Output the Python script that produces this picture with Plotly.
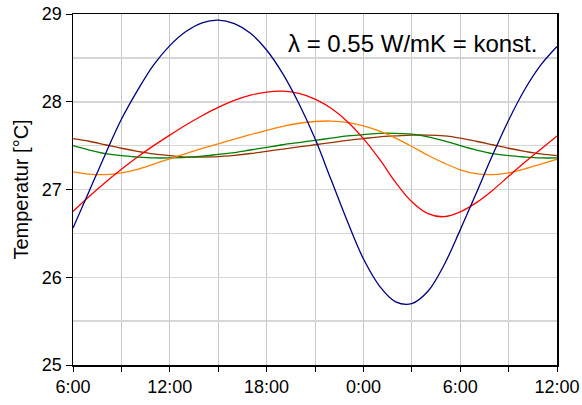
import plotly.graph_objects as go

# hours since 6:00 (day 1) -> 12:00 (day 2)
hours = list(range(0, 31))
tick_vals = [0, 6, 12, 18, 24, 30]
tick_labels = ["6:00", "12:00", "18:00", "0:00", "6:00", "12:00"]

blue = [26.56, 26.98, 27.40, 27.80, 28.13, 28.42, 28.64, 28.80, 28.90, 28.93,
        28.89, 28.78, 28.59, 28.32, 27.98, 27.58, 27.11, 26.64, 26.21, 25.90,
        25.72, 25.70, 25.84, 26.14, 26.54, 26.96, 27.39, 27.79, 28.14, 28.42, 28.63]
red = [26.75, 26.92, 27.08, 27.23, 27.37, 27.50, 27.62, 27.735, 27.84, 27.935,
       28.015, 28.075, 28.11, 28.12, 28.095, 28.03, 27.925, 27.775, 27.58, 27.345,
       27.08, 26.86, 26.725, 26.69, 26.745, 26.85, 26.99, 27.15, 27.31, 27.46, 27.61]
orange = [27.20, 27.175, 27.17, 27.19, 27.23, 27.29, 27.35, 27.41, 27.47, 27.52,
          27.575, 27.625, 27.675, 27.72, 27.755, 27.775, 27.78, 27.765, 27.725, 27.665,
          27.585, 27.49, 27.39, 27.30, 27.225, 27.18, 27.17, 27.19, 27.235, 27.29, 27.345]
green = [27.50, 27.45, 27.41, 27.385, 27.37, 27.36, 27.36, 27.365, 27.38, 27.40,
         27.42, 27.45, 27.48, 27.51, 27.535, 27.56, 27.585, 27.61, 27.625, 27.64,
         27.64, 27.63, 27.60, 27.555, 27.50, 27.45, 27.41, 27.385, 27.37, 27.36, 27.36]
brown = [27.58, 27.55, 27.51, 27.47, 27.435, 27.405, 27.385, 27.37, 27.37, 27.375,
         27.39, 27.41, 27.435, 27.46, 27.485, 27.51, 27.535, 27.56, 27.58, 27.60,
         27.61, 27.62, 27.62, 27.61, 27.585, 27.55, 27.51, 27.47, 27.435, 27.405, 27.385]

series = [
    (brown, "#993300"),
    (green, "#008000"),
    (orange, "#FF8000"),
    (red, "#FF0000"),
    (blue, "#000080"),
]

font = "Liberation Sans, Arial, sans-serif"

fig = go.Figure()
for vals, col in series:
    fig.add_trace(go.Scatter(x=hours, y=vals, mode="lines",
                             line=dict(color=col, width=1.3, shape="spline", smoothing=1),
                             showlegend=False, hoverinfo="skip"))

fig.add_annotation(text="λ = 0.55 W/mK = konst.", xref="paper", yref="paper",
                   x=0.440, y=0.917, xanchor="left", yanchor="middle",
                   showarrow=False, font=dict(family=font, size=24, color="black"))

fig.update_layout(
    width=582, height=405,
    margin=dict(l=73, r=25, t=14, b=40, autoexpand=False),
    paper_bgcolor="white", plot_bgcolor="white",
    font=dict(family=font, size=18, color="black"),
    hovermode=False,
)
fig.update_xaxes(
    range=[0, 30], tickmode="array", tickvals=tick_vals, ticktext=tick_labels,
    ticks="outside", ticklen=5, tickcolor="black", tickwidth=1,
    showgrid=True, gridcolor="#C8C8C8", gridwidth=1,
    minor=dict(dtick=3, tick0=0, showgrid=True, gridcolor="#C8C8C8", gridwidth=1,
               ticks="outside", ticklen=5, tickcolor="black"),
    showline=True, linecolor="black", linewidth=1.5, mirror=True,
    zeroline=False, tickfont=dict(family=font, size=18), automargin=False,
    ticklabeloverflow="allow",
)
fig.update_yaxes(
    range=[25, 29], tickmode="linear", tick0=25, dtick=1,
    ticks="outside", ticklen=6, tickcolor="black", tickwidth=1,
    showgrid=True, gridcolor="#D6D6D6", gridwidth=1.5,
    minor=dict(dtick=0.5, showgrid=True, gridcolor="#D6D6D6", gridwidth=1.5),
    showline=True, linecolor="black", linewidth=1.5, mirror=True,
    zeroline=False, tickfont=dict(family=font, size=18), automargin=False,
    ticklabeloverflow="allow",
    title=dict(text="Temperatur [°C]", font=dict(family=font, size=20, color="black"),
               standoff=8),
)

# remove the page's default 8px body margin so the figure sits at (0, 0)
fig.write_html("out.html", config={"displayModeBar": False, "staticPlot": True},
               post_script="document.body.style.margin='0';")
